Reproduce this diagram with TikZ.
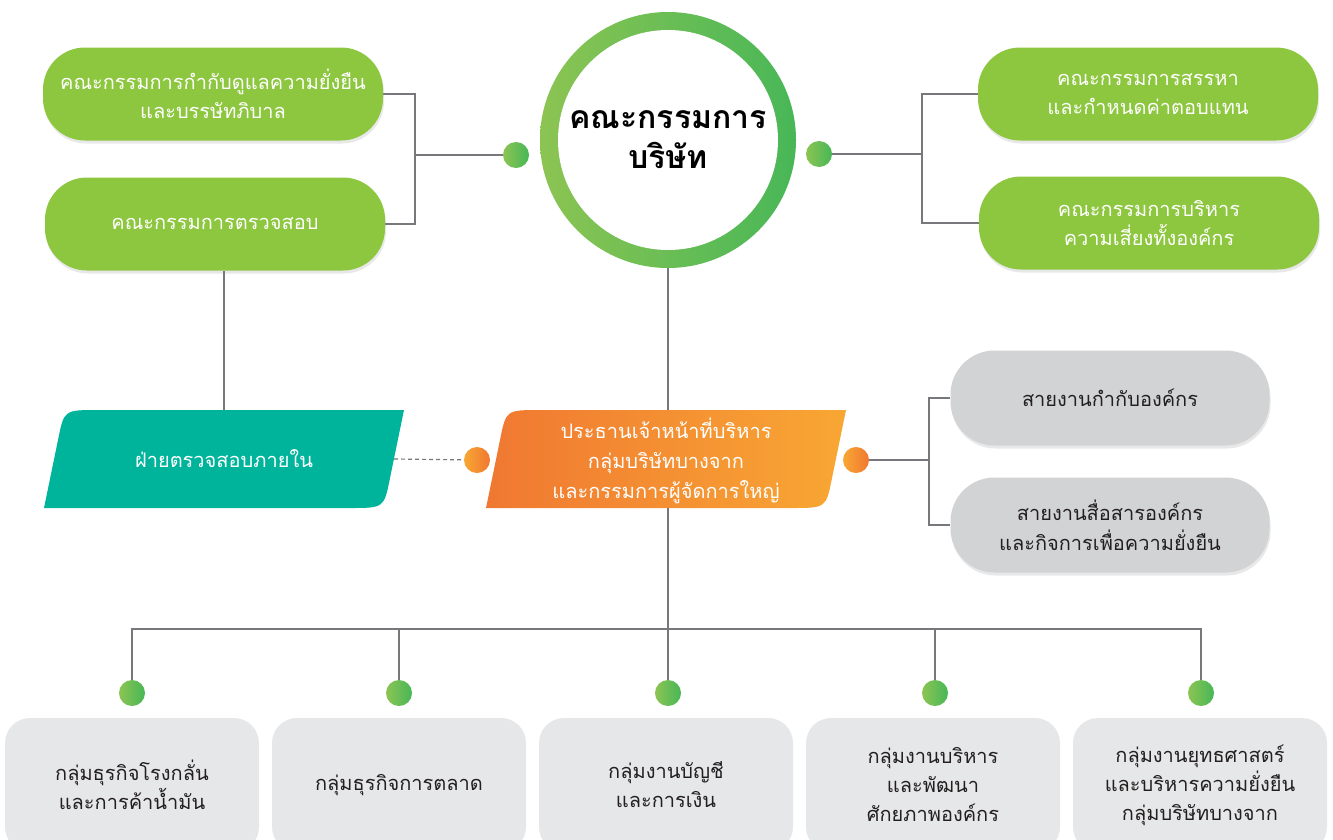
\documentclass[tikz,border=0pt]{standalone}
\usepackage{fontspec}
\setmainfont{Loma}[Script=Thai]
\usetikzlibrary{positioning,backgrounds,shadows}
\definecolor{leafgreen}{HTML}{8DC63F}
\definecolor{ringlight}{HTML}{8CC453}
\definecolor{ringdark}{HTML}{48B757}
\definecolor{tealbox}{HTML}{00B49C}
\definecolor{orangedark}{HTML}{F07832}
\definecolor{orangelight}{HTML}{F8A733}
\definecolor{pillgray}{HTML}{D1D3D4}
\definecolor{cardgray}{HTML}{E6E7E8}
\definecolor{wiregray}{HTML}{77787B}
\definecolor{inkdark}{HTML}{231F20}
\begin{document}
\begin{tikzpicture}[x=1pt,y=-1pt,line join=bevel,
  wire/.style={draw=wiregray,line width=1.2pt},
  softshadow/.style={drop shadow={opacity=0.18,shadow xshift=1pt,shadow yshift=-3pt}},
  greenbox/.style={rounded corners=42pt,fill=leafgreen,text=white,align=center,
    minimum width=340pt,minimum height=93pt,font=\fontsize{20}{29}\selectfont,softshadow},
  graypill/.style={rounded corners=44pt,fill=pillgray,text=inkdark,align=center,
    minimum width=319pt,minimum height=95pt,font=\fontsize{20}{30}\selectfont,softshadow},
  card/.style={rounded corners=25pt,fill=cardgray,text=inkdark,align=center,
    minimum width=254pt,minimum height=134pt,font=\fontsize{20}{29}\selectfont},
  slanttext/.style={text=white,align=center,minimum width=340pt,minimum height=98pt,
    font=\fontsize{20}{30}\selectfont},
  greendot/.style={circle,inner sep=0pt,minimum size=26pt,left color=ringlight,right color=ringdark},
  orangedot/.style={circle,inner sep=0pt,minimum size=26pt,left color=orangelight,right color=orangedark},
]
  \useasboundingbox (0,0) rectangle (1333,839);
  % Node: board
  \shade[left color=ringlight,right color=ringdark] (668,140) circle [radius=128];
  \node[circle,fill=white,minimum size=220pt,align=center,
    font=\bfseries\fontsize{32}{40}\selectfont] (board) at (668,140) {คณะกรรมการ\\บริษัท};
  \node[greendot] (bdotL) at (516,155) {};
  \node[greendot] (bdotR) at (819,154) {};
  % Node: committees
  \node[greenbox] (govcom) at (213,94) {คณะกรรมการกำกับดูแลความยั่งยืน\\และบรรษัทภิบาล};
  \node[greenbox] (auditcom) at (215,224) {คณะกรรมการตรวจสอบ};
  \node[greenbox] (nomcom) at (1148,94) {คณะกรรมการสรรหา\\และกำหนดค่าตอบแทน};
  \node[greenbox] (riskcom) at (1149,223) {คณะกรรมการบริหาร\\ความเสี่ยงทั้งองค์กร};
  % Node: internalaudit
  \fill[tealbox] (44,508) -- (58,440) .. controls (64,410) .. (98,410) -- (404,410)
    -- (390,478) .. controls (384,508) .. (350,508) -- cycle;
  \node[slanttext] (internalaudit) at (224,459) {ฝ่ายตรวจสอบภายใน};
  % Node: ceo
  \shade[left color=orangedark,right color=orangelight] (486,508) -- (500,440)
    .. controls (506,410) .. (540,410) -- (846,410) -- (832,478)
    .. controls (826,508) .. (792,508) -- cycle;
  \node[slanttext] (ceo) at (666,461) {ประธานเจ้าหน้าที่บริหาร\\กลุ่มบริษัทบางจาก\\และกรรมการผู้จัดการใหญ่};
  \node[orangedot] (cdotL) at (477,460) {};
  \node[orangedot] (cdotR) at (856,460) {};
  % Node: corporate lines
  \node[graypill] (compliance) at (1110,398) {สายงานกำกับองค์กร};
  \node[graypill] (corpcomm) at (1110,525) {สายงานสื่อสารองค์กร\\และกิจการเพื่อความยั่งยืน};
  % Node: business groups
  \node[card] (refinery) at (132,785) {กลุ่มธุรกิจโรงกลั่น\\และการค้าน้ำมัน};
  \node[card] (marketing) at (399,785) {กลุ่มธุรกิจการตลาด};
  \node[card] (finance) at (666,785) {กลุ่มงานบัญชี\\และการเงิน};
  \node[card] (hrdev) at (933,785) {กลุ่มงานบริหาร\\และพัฒนา\\ศักยภาพองค์กร};
  \node[card] (strategy) at (1200,785) {กลุ่มงานยุทธศาสตร์\\และบริหารความยั่งยืน\\กลุ่มบริษัทบางจาก};
  \foreach \x [count=\n] in {132,399,668,935,1201}
    \node[greendot] (gdot\n) at (\x,693) {};
  \begin{scope}[on background layer]
  % Edge: board -> committees
  \coordinate (lj) at (415,155);
  \coordinate (rj) at (922,154);
  \draw[wire] (govcom.east) -| (lj) |- (auditcom.east);
  \draw[wire] (lj) -- (bdotL);
  \draw[wire] (nomcom.west) -| (rj) |- (riskcom.west);
  \draw[wire] (rj) -- (bdotR);
  % Edge: board -> ceo -> groups
  \coordinate (bus) at (668,629);
  \draw[wire] (board) -- (bus);
  \foreach \n in {1,...,5}
    \draw[wire] (gdot\n) |- (bus);
  % Edge: auditcom -> internalaudit
  \draw[wire] (internalaudit.north) -- (internalaudit.north |- auditcom.south);
  \draw[wire,dash pattern=on 4pt off 3pt] (internalaudit.east) -- (cdotL);
  % Edge: ceo -> corporate lines
  \coordinate (oj) at (929,460);
  \draw[wire] (cdotR) -- (oj);
  \draw[wire] (compliance.west) -| (oj) |- (corpcomm.west);
  \end{scope}
\end{tikzpicture}
\end{document}
